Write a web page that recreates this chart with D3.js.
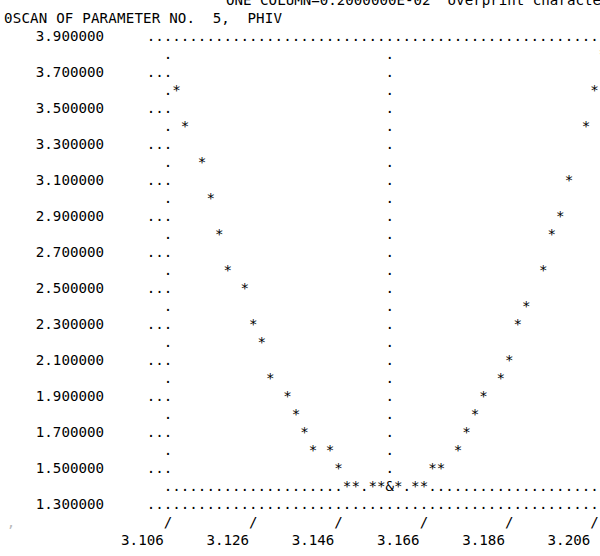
<!DOCTYPE html>
<html>
<head>
<meta charset="utf-8">
<script src="https://cdn.jsdelivr.net/npm/d3@7"></script>
<style>
  html, body { margin: 0; padding: 0; background: #fff; overflow: hidden; }
  svg text { white-space: pre; }
</style>
</head>
<body>
<svg id="chart" width="600" height="556"></svg>
<script>
// MINUIT-style line-printer scan of one parameter.
const headerText = "ONE COLUMN=0.2000000E-02  overprint character is &";
const titleText = "0SCAN OF PARAMETER NO.  5,  PHIV";

// scanned parameter values (PHIV) and function values at each scan point
const phiv = [3.108, 3.110, 3.114, 3.116, 3.118, 3.120, 3.124, 3.126, 3.128, 3.130,
              3.134, 3.136, 3.138, 3.140, 3.144, 3.146, 3.148, 3.150, 3.154, 3.156,
              3.158, 3.160, 3.164, 3.166, 3.168, 3.170, 3.174, 3.176, 3.178, 3.180,
              3.184, 3.186, 3.188, 3.190, 3.194, 3.196, 3.198, 3.200, 3.204, 3.206,
              3.208];
const fcn  = [3.6, 3.4, 3.2, 3.0, 2.8, 2.6, 2.5, 2.3, 2.2, 2.0,
              1.9, 1.8, 1.7, 1.6, 1.6, 1.5, 1.4, 1.4, 1.4, 1.4,
              1.4, 1.4, 1.4, 1.4, 1.5, 1.5, 1.6, 1.7, 1.8, 1.9,
              2.0, 2.1, 2.3, 2.4, 2.6, 2.8, 2.9, 3.1, 3.4, 3.6,
              3.8];

// current (best) parameter value and function value there
const bestPhiv = [3.158];
const bestFcn = [1.4];

// axis labels
const yTickValues = [3.9, 3.7, 3.5, 3.3, 3.1, 2.9, 2.7, 2.5, 2.3, 2.1, 1.9, 1.7, 1.5, 1.3];
const xTickValues = [3.106, 3.126, 3.146, 3.166, 3.186, 3.206];

// ---- character grid geometry ----
const cw = 8.53;          // width of one printer column
const lh = 18;            // height of one printer line
const fontSize = 14.17;

const colScale = d3.scaleLinear().domain([3.106, 3.206]).range([0, 50]);
const rowScale = d3.scaleLinear().domain([3.9, 1.3]).range([0, 26]);
const xPx = d3.scaleLinear().domain([0, 50]).range([168, 168 + 50 * cw]);
const yBase = d3.scaleLinear().domain([0, 26]).range([41, 41 + 26 * lh]);

const colOf = v => Math.round(colScale(v));
const rowOf = v => Math.round(rowScale(v));

const firstRow = rowOf(yTickValues[0]);
const lastRow = rowOf(yTickValues[yTickValues.length - 1]);
const lastCol = 52;

const cells = new Map();
const put = (c, r, ch) => cells.set(c + "," + r, { c, r, ch, n: 0 });

// frame: top and bottom dotted lines
for (let c = -2; c <= lastCol; c++) { put(c, firstRow, "."); put(c, lastRow, "."); }
// left edge: one dot per line, three on labelled lines
for (let r = firstRow + 1; r < lastRow; r++) put(0, r, ".");
yTickValues.forEach(v => {
  const r = rowOf(v);
  if (r > firstRow && r < lastRow) { put(-2, r, "."); put(-1, r, "."); }
});
// guide lines through the best point
const bc = colOf(bestPhiv[0]), br = rowOf(bestFcn[0]);
for (let r = firstRow + 1; r < lastRow; r++) put(bc, r, ".");
for (let c = 0; c <= lastCol; c++) put(c, br, ".");

// plotted points; two points in one cell print the overprint character
const plotPoint = (x, y) => {
  const c = colOf(x), r = rowOf(y), k = c + "," + r;
  const cell = cells.get(k) || { c, r, ch: " ", n: 0 };
  cell.n += 1;
  cell.ch = cell.n > 1 ? "&" : "*";
  cells.set(k, cell);
};
phiv.forEach((x, i) => plotPoint(x, fcn[i]));
bestPhiv.forEach((x, i) => plotPoint(x, bestFcn[i]));

const svg = d3.select("#chart")
  .attr("font-family", "'DejaVu Sans Mono', monospace")
  .attr("font-size", fontSize + "px")
  .attr("fill", "#000");

// header lines
svg.append("text").attr("x", 226).attr("y", yBase(-2)).text(headerText);
svg.append("text").attr("x", 4).attr("y", yBase(-1))
  .attr("letter-spacing", "0.17px")
  .text(titleText);

// grid characters
svg.append("g").selectAll("text")
  .data(Array.from(cells.values()).filter(d => d.ch !== " "))
  .join("text")
  .attr("x", d => xPx(d.c))
  .attr("y", d => yBase(d.r))
  .attr("text-anchor", "middle")
  .text(d => d.ch);

// function value labels
const fmtY = d3.format(".6f");
svg.append("g").selectAll("text")
  .data(yTickValues)
  .join("text")
  .attr("x", xPx(-8) + cw / 2)
  .attr("y", d => yBase(rowOf(d)))
  .attr("text-anchor", "end")
  .text(fmtY);

// parameter axis: tick marks and labels
const fmtX = d3.format(".3f");
svg.append("g").selectAll("text")
  .data(xTickValues)
  .join("text")
  .attr("x", d => xPx(colOf(d)))
  .attr("y", yBase(lastRow + 1))
  .attr("text-anchor", "middle")
  .text("/");
svg.append("g").selectAll("text")
  .data(xTickValues)
  .join("text")
  .attr("x", d => xPx(colOf(d) - 3))
  .attr("y", yBase(lastRow + 2))
  .attr("text-anchor", "middle")
  .text(fmtX);

// faint carriage-control mark at the start of the tick line
svg.append("text")
  .attr("x", 11).attr("y", yBase(lastRow + 1))
  .attr("text-anchor", "middle")
  .attr("fill", "#bbb")
  .text(",");
</script>
</body>
</html>
